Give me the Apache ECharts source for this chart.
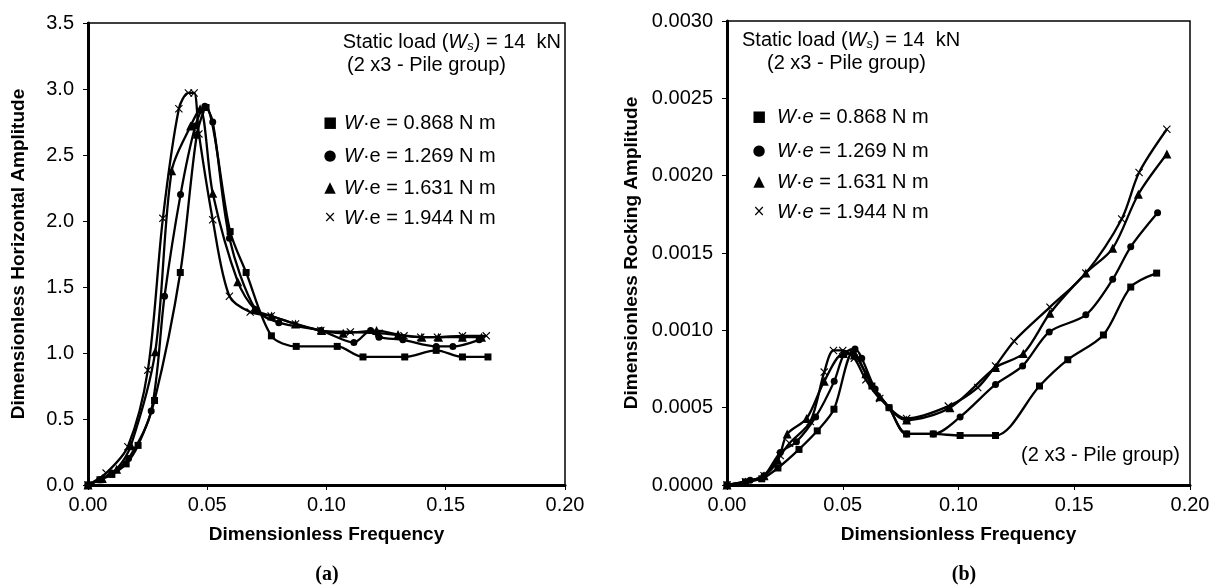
<!DOCTYPE html>
<html>
<head>
<meta charset="utf-8">
<script src="https://cdn.jsdelivr.net/npm/echarts@6/dist/echarts.min.js"></script>
<style>
  html, body { margin: 0; padding: 0; background: #fff; }
  #chart { width: 1223px; height: 588px; }
</style>
</head>
<body>
<div id="chart"></div>
<script>
// legend values (W·e, N m)
var weLabels = ['0.868', '1.269', '1.631', '1.944']

// (a) horizontal amplitude, [frequency, amplitude]
var horiz0868 = [[0, 0], [0.005, 0.04], [0.010, 0.08], [0.016, 0.16], [0.021, 0.30], [0.0279, 0.64], [0.0387, 1.61], [0.0456, 2.65], [0.0495, 2.86], [0.0596, 1.92], [0.0663, 1.61], [0.0769, 1.13], [0.0873, 1.05], [0.1045, 1.05], [0.1153, 0.97], [0.1328, 0.97], [0.146, 1.02], [0.157, 0.97], [0.1677, 0.97]]
var horiz1269 = [[0, 0], [0.005, 0.04], [0.010, 0.09], [0.017, 0.20], [0.0265, 0.56], [0.0321, 1.43], [0.0388, 2.20], [0.045, 2.72], [0.049, 2.87], [0.0523, 2.75], [0.0593, 1.87], [0.0702, 1.33], [0.080, 1.23], [0.0976, 1.17], [0.1115, 1.08], [0.1185, 1.17], [0.122, 1.12], [0.132, 1.10], [0.146, 1.05], [0.153, 1.05], [0.164, 1.10]]
var horiz1631 = [[0, 0], [0.006, 0.05], [0.012, 0.12], [0.018, 0.30], [0.0282, 1.01], [0.0351, 2.38], [0.043, 2.72], [0.047, 2.85], [0.0523, 2.21], [0.0628, 1.54], [0.070, 1.33], [0.077, 1.28], [0.087, 1.22], [0.098, 1.17], [0.107, 1.15], [0.121, 1.17], [0.130, 1.14], [0.140, 1.12], [0.147, 1.12], [0.157, 1.12], [0.165, 1.12]]
var horiz1944 = [[0, 0], [0.0076, 0.09], [0.0167, 0.29], [0.0251, 0.87], [0.0314, 2.02], [0.0381, 2.85], [0.0421, 2.97], [0.0445, 2.97], [0.0465, 2.66], [0.0523, 2.01], [0.0593, 1.43], [0.068, 1.31], [0.0768, 1.28], [0.087, 1.22], [0.0976, 1.17], [0.110, 1.16], [0.122, 1.15], [0.1325, 1.13], [0.1395, 1.12], [0.1465, 1.12], [0.157, 1.13], [0.167, 1.13]]

// (b) rocking amplitude, [frequency, amplitude]
var rock0868 = [[0, 0], [0.008, 0.00002], [0.015, 0.00004], [0.022, 0.00011], [0.0311, 0.00023], [0.039, 0.00035], [0.0462, 0.00049], [0.0545, 0.00086], [0.0626, 0.00064], [0.070, 0.00050], [0.0776, 0.00033], [0.0891, 0.00033], [0.1007, 0.00032], [0.116, 0.00032], [0.135, 0.00064], [0.1472, 0.00081], [0.1626, 0.00097], [0.1744, 0.00128], [0.1856, 0.00137]]
var rock1269 = [[0, 0], [0.010, 0.00003], [0.016, 0.00006], [0.023, 0.00021], [0.030, 0.00028], [0.0383, 0.00044], [0.0463, 0.00067], [0.0507, 0.00085], [0.0553, 0.00088], [0.0582, 0.00082], [0.064, 0.00062], [0.070, 0.00050], [0.0776, 0.00033], [0.0891, 0.00033], [0.1007, 0.00044], [0.116, 0.00065], [0.1277, 0.00077], [0.1392, 0.00099], [0.155, 0.00110], [0.1666, 0.00133], [0.1744, 0.00154], [0.186, 0.00176]]
var rock1631 = [[0, 0], [0.008, 0.00002], [0.016, 0.00006], [0.022, 0.00016], [0.026, 0.00033], [0.0344, 0.00043], [0.042, 0.00067], [0.0503, 0.00085], [0.055, 0.00084], [0.060, 0.00072], [0.066, 0.00057], [0.0776, 0.00042], [0.0963, 0.00050], [0.116, 0.00076], [0.128, 0.00085], [0.1395, 0.00111], [0.155, 0.00137], [0.1666, 0.00153], [0.1777, 0.00188], [0.190, 0.00214]]
var rock1944 = [[0, 0], [0.008, 0.00002], [0.016, 0.00006], [0.023, 0.00019], [0.027, 0.00027], [0.036, 0.00041], [0.042, 0.00073], [0.046, 0.00087], [0.050, 0.00087], [0.055, 0.00082], [0.060, 0.00068], [0.066, 0.00056], [0.0776, 0.00043], [0.0956, 0.00051], [0.1083, 0.00063], [0.116, 0.00077], [0.124, 0.00093], [0.1395, 0.00115], [0.155, 0.00137], [0.1705, 0.00172], [0.178, 0.00202], [0.190, 0.00230]]

var crossPath = 'path://M0,1L1,0L5,4L9,0L10,1L6,5L10,9L9,10L5,6L1,10L0,9L4,5Z'
var symbols = [['rect', 7], ['circle', 7], ['triangle', 9], [crossPath, 8]]
var font = 'Liberation Sans, Arial, sans-serif'

function makeSeries(data, k, idx) {
    return {
        type: 'line',
        xAxisIndex: idx,
        yAxisIndex: idx,
        data: data,
        smooth: 0.3,
        symbol: symbols[k][0],
        symbolSize: symbols[k][1],
        showSymbol: true,
        lineStyle: { color: '#000', width: 2.3 },
        itemStyle: { color: '#000' },
        z: 3
    }
}

function xAxis(idx) {
    return {
        type: 'value', gridIndex: idx, min: 0, max: 0.2, interval: 0.05,
        name: 'Dimensionless Frequency', nameLocation: 'middle', nameGap: 40,
        nameTextStyle: { fontFamily: font, fontWeight: 'bold', fontSize: 19, color: '#000' },
        axisLine: { lineStyle: { color: '#000', width: 3 } },
        axisTick: { show: true, inside: false, length: 5, lineStyle: { color: '#000' } },
        axisLabel: { fontFamily: font, fontSize: 20, color: '#000', margin: 10,
            formatter: function (v) { return v.toFixed(2) } },
        splitLine: { show: false }
    }
}

function yAxis(idx, max, interval, digits, name) {
    return {
        type: 'value', gridIndex: idx, min: 0, max: max, interval: interval,
        name: name, nameLocation: 'middle', nameGap: idx == 0 ? 60 : 86, nameRotate: 90,
        nameTextStyle: { fontFamily: font, fontWeight: 'bold', fontSize: 19, color: '#000' },
        axisLine: { lineStyle: { color: '#000', width: 3 } },
        axisTick: { show: true, inside: false, length: 5, lineStyle: { color: '#000' } },
        axisLabel: { fontFamily: font, fontSize: 20, color: '#000', margin: 14,
            formatter: function (v) { return v.toFixed(digits) } },
        splitLine: { show: false }
    }
}

var rich = {
    t: { fontFamily: font, fontSize: 20, color: '#000' },
    i: { fontFamily: font, fontSize: 20, fontStyle: 'italic', color: '#000' },
    sub: { fontFamily: font, fontSize: 13, fontStyle: 'italic', color: '#000', verticalAlign: 'bottom', padding: [8, 0, 0, 0] },
    m: { fontFamily: 'DejaVu Sans', fontSize: 15, color: '#000' }
}

function text(x, y, str, align, extra) {
    var st = { text: str, rich: rich, font: '20px ' + font, fill: '#000', align: align || 'left', verticalAlign: 'middle' }
    if (extra) for (var k in extra) st[k] = extra[k]
    return { type: 'text', x: x, y: y, style: st, z: 10 }
}

var marks = ['■', '●', '▲', '×']
var graphics = []
// (a) annotations
graphics.push(text(561, 42, '{t|Static load (}{i|W}{sub|s}{t|) = 14  kN}', 'right'))
graphics.push(text(347, 65, '{t|(2 x3 - Pile group)}'))
var ya = [123, 156, 188, 218]
for (var i = 0; i < 4; i++) {
    graphics.push(text(330, ya[i], '{m|' + marks[i] + '}', 'center'))
    graphics.push(text(344, ya[i], '{i|W}{t|·e = ' + weLabels[i] + ' N m}'))
}
// (b) annotations
graphics.push(text(742, 40, '{t|Static load (}{i|W}{sub|s}{t|) = 14  kN}'))
graphics.push(text(767, 63, '{t|(2 x3 - Pile group)}'))
var yb = [117, 151, 182, 212]
for (var j = 0; j < 4; j++) {
    graphics.push(text(759, yb[j], '{m|' + marks[j] + '}', 'center'))
    graphics.push(text(777, yb[j], '{i|W}{t|·}{i|e}{t| = ' + weLabels[j] + ' N m}'))
}
graphics.push(text(1180, 455, '{t|(2 x3 - Pile group)}', 'right'))
// panel captions
graphics.push(text(327, 575, '(a)', 'center', { font: 'bold 20px Liberation Serif, serif' }))
graphics.push(text(964, 575, '(b)', 'center', { font: 'bold 20px Liberation Serif, serif' }))

var myChart = echarts.init(document.getElementById('chart'), null, { renderer: 'canvas' })
myChart.setOption({
    animation: false,
    backgroundColor: '#fff',
    grid: [
        { left: 88, top: 23, width: 477, height: 462, show: true, borderColor: '#000', borderWidth: 1.5 },
        { left: 727, top: 21, width: 463, height: 464, show: true, borderColor: '#000', borderWidth: 1.5 }
    ],
    xAxis: [xAxis(0), xAxis(1)],
    yAxis: [
        yAxis(0, 3.5, 0.5, 1, 'Dimensionless Horizontal Amplitude'),
        yAxis(1, 0.003, 0.0005, 4, 'Dimensionless Rocking Amplitude')
    ],
    series: [
        makeSeries(horiz0868, 0, 0), makeSeries(horiz1269, 1, 0),
        makeSeries(horiz1631, 2, 0), makeSeries(horiz1944, 3, 0),
        makeSeries(rock0868, 0, 1), makeSeries(rock1269, 1, 1),
        makeSeries(rock1631, 2, 1), makeSeries(rock1944, 3, 1)
    ],
    graphic: graphics
})
</script>
</body>
</html>
